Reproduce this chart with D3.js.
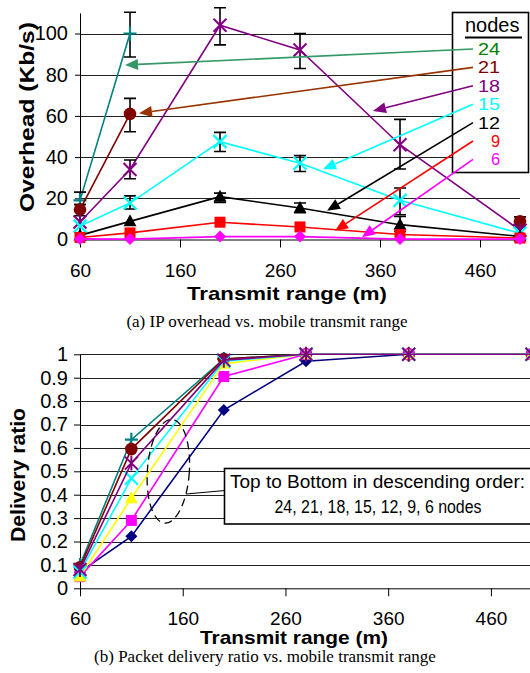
<!DOCTYPE html>
<html>
<head>
<meta charset="utf-8">
<script src="https://cdn.jsdelivr.net/npm/d3@7"></script>
<style>
  body { margin: 0; background: #fff; }
  svg { display: block; }
  text { font-family: "Liberation Sans", Arial, sans-serif; }
</style>
</head>
<body>
<svg width="530" height="673"></svg>
<script>
// transmit ranges (m) where the runs were made
var ranges = [60, 110, 200, 280, 380, 500];
var nodeCounts = [24, 21, 18, 15, 12, 9, 6];
var xTicks = [60, 160, 260, 360, 460];

// (a) IP overhead, Kb/s (null = no point)
var ovh24 = [19, 100, null, null, null, null];
var ovh21 = [14.5, 61, null, null, null, 8.8];
var ovh18 = [8.5, 34, 104, 92, 46, 4.5];
var ovh15 = [6.5, 17.7, 47.5, 37, 19, 3];
var ovh12 = [2, 8.8, 20.8, 15.3, 7.2, 1.5];
var ovh9 = [1, 3.2, 8.4, 6.1, 2.4, 0.7];
var ovh6 = [0.3, 0.2, 1.4, 1.4, 0.2, 0.2];

// error bars [low, high]
var err24 = [[17, 23], [88.6, 110.3], null, null, null, null];
var err21 = [[11.5, 17], [52.3, 68.5], null, null, null, [6, 11]];
var err18 = [null, [29.5, 38.6], [94.5, 112.5], [83, 100], [34.2, 58.3], null];
var err15 = [null, [14.8, 21.2], [42.7, 52], [33, 40.7], [12, 25], null];
var err12 = [null, null, [18, 22.5], [13, 17.7], [4, 11.2], null];
var err9 = [null, null, null, null, null, null];
var err6 = [null, null, null, null, null, null];

// (b) packet delivery ratio
var dr24 = [0.1, 0.635, 0.98, 1, 1, 1];
var dr21 = [0.09, 0.595, 0.98, 1, 1, 1];
var dr18 = [0.08, 0.535, 0.975, 1, 1, 1];
var dr15 = [0.07, 0.47, 0.97, 1, 1, 1];
var dr12 = [0.05, 0.385, 0.96, 1, 1, 1];
var dr9 = [0.05, 0.29, 0.905, 1, 1, 1];
var dr6 = [0.07, 0.222, 0.762, 0.97, 1, 1];

var ovhSeries = [ovh24, ovh21, ovh18, ovh15, ovh12, ovh9, ovh6];
var errSeries = [err24, err21, err18, err15, err12, err9, err6];
var drSeries = [dr24, dr21, dr18, dr15, dr12, dr9, dr6];

var marks = ["plus", "circle", "star", "x", "tri", "square", "diamond"];
var topColors = ["#008080", "#800000", "#800080", "#00ffff", "#000000", "#ff0000", "#ff00ff"];
var botColors = ["#008080", "#800000", "#800080", "#00ffff", "#ffff00", "#ff00ff", "#000080"];
var legendColors = ["#008000", "#800000", "#800080", "#00ffff", "#000000", "#ff0000", "#ff00ff"];
var arrowColors = ["#339966", "#993300", "#800080", "#00ffff", "#000000", "#ff0000", "#ff00ff"];
// where each legend arrow points, in data units (range, Kb/s)
var arrowTips = [[105, 84.7], [119, 61.3], [353, 62.4], [303, 34.1], [307, 14], [315, 4.3], [342, 1.1]];
// drawing order of the delivery-ratio series (index into drSeries)
var drOrder = [0, 1, 6, 5, 4, 3, 2];

var svg = d3.select("svg");

var xA = d3.scaleLinear().domain([60, 500]).range([80, 520]);
var yA = d3.scaleLinear().domain([0, 110]).range([239.5, 12.9]);
var xB = d3.scaleLinear().domain([60, 500]).range([80, 532]);
var yB = d3.scaleLinear().domain([0, 1]).range([588.3, 354.3]);

function marker(g, type, x, y, color) {
  var s = 6.5;
  if (type == "plus") {
    g.append("path").attr("d", "M" + (x - s) + "," + y + "H" + (x + s) + "M" + x + "," + (y - s - 0.5) + "V" + (y + s + 0.5))
      .attr("stroke", color).attr("stroke-width", 2.2).attr("fill", "none");
  } else if (type == "circle") {
    g.append("circle").attr("cx", x).attr("cy", y).attr("r", 6.3).attr("fill", color);
  } else if (type == "star") {
    g.append("path").attr("d", "M" + (x - s) + "," + (y - s) + "L" + (x + s) + "," + (y + s) + "M" + (x - s) + "," + (y + s) + "L" + (x + s) + "," + (y - s) + "M" + x + "," + (y - s - 1) + "V" + (y + s + 1))
      .attr("stroke", color).attr("stroke-width", 2).attr("fill", "none");
  } else if (type == "x") {
    g.append("path").attr("d", "M" + (x - s) + "," + (y - s) + "L" + (x + s) + "," + (y + s) + "M" + (x - s) + "," + (y + s) + "L" + (x + s) + "," + (y - s))
      .attr("stroke", color).attr("stroke-width", 2.2).attr("fill", "none");
  } else if (type == "tri") {
    g.append("path").attr("d", "M" + x + "," + (y - 7) + "L" + (x + 6.5) + "," + (y + 5) + "L" + (x - 6.5) + "," + (y + 5) + "Z").attr("fill", color);
  } else if (type == "square") {
    g.append("rect").attr("x", x - 5.5).attr("y", y - 5.5).attr("width", 11).attr("height", 11).attr("fill", color);
  } else if (type == "diamond") {
    g.append("path").attr("d", "M" + x + "," + (y - 6) + "L" + (x + 6) + "," + y + "L" + x + "," + (y + 6) + "L" + (x - 6) + "," + y + "Z").attr("fill", color);
  }
}

function styleAxis(g) {
  g.select(".domain").attr("stroke", "#000").attr("stroke-width", 1);
  g.selectAll(".tick line").attr("stroke", "#000");
  g.selectAll(".tick text").attr("font-size", 19).attr("fill", "#000")
    .attr("font-family", '"Liberation Sans", Arial, sans-serif');
}

// ---------- (a) overhead ----------
var gA = svg.append("g");

gA.append("g").selectAll("line").data([20, 40, 60, 80, 100]).join("line")
  .attr("x1", 80).attr("x2", 520)
  .attr("y1", function(d) { return Math.round(yA(d)) + 0.5; })
  .attr("y2", function(d) { return Math.round(yA(d)) + 0.5; })
  .attr("stroke", "#222").attr("stroke-width", 1);

var ayA = gA.append("g").attr("transform", "translate(80,0)")
  .call(d3.axisLeft(yA).tickValues([0, 20, 40, 60, 80, 100]).tickSize(5).tickPadding(7).tickSizeOuter(0))
  .call(styleAxis);
ayA.selectAll(".tick text").attr("font-size", 20);

var axA = gA.append("g").attr("transform", "translate(0,239.5)")
  .call(d3.axisBottom(xA).tickValues(xTicks).tickSize(8).tickPadding(16).tickSizeOuter(0))
  .call(styleAxis);
axA.selectAll(".tick text").attr("dy", "0.71em");

var lineA = d3.line()
  .defined(function(d) { return d[1] != null; })
  .x(function(d) { return xA(d[0]); })
  .y(function(d) { return yA(d[1]); });

ovhSeries.forEach(function(vals, i) {
  var pts = ranges.map(function(r, j) { return [r, vals[j]]; });
  var g = gA.append("g");
  g.append("path").datum(pts).attr("d", lineA)
    .attr("fill", "none").attr("stroke", topColors[i]).attr("stroke-width", 1.6);
  errSeries[i].forEach(function(e, j) {
    if (!e) return;
    var x = xA(ranges[j]);
    g.append("path")
      .attr("d", "M" + x + "," + yA(e[0]) + "V" + yA(e[1]) +
        "M" + (x - 6) + "," + yA(e[0]) + "H" + (x + 6) +
        "M" + (x - 6) + "," + yA(e[1]) + "H" + (x + 6))
      .attr("stroke", "#000").attr("stroke-width", 1.6).attr("fill", "none");
  });
  pts.forEach(function(p) {
    if (p[1] == null) return;
    marker(g, marks[i], xA(p[0]), yA(p[1]), topColors[i]);
  });
});

// legend box with arrows
var leg = gA.append("g");
leg.append("rect").attr("x", 452.5).attr("y", 12.5).attr("width", 76).attr("height", 160)
  .attr("fill", "#fff").attr("stroke", "#000").attr("stroke-width", 1.6);
leg.append("text").attr("x", 465).attr("y", 31.5).attr("font-size", 20).text("nodes");
leg.append("line").attr("x1", 465).attr("x2", 522).attr("y1", 37.5).attr("y2", 37.5)
  .attr("stroke", "#000").attr("stroke-width", 1.8);

nodeCounts.forEach(function(n, i) {
  var by = 55 + i * 18.4;
  var t = leg.append("text").attr("x", 500).attr("y", by).attr("text-anchor", "end")
    .attr("font-size", 16.4).attr("fill", legendColors[i]).text(n);
  if (String(n).length == 2) t.attr("textLength", 22).attr("lengthAdjust", "spacingAndGlyphs");
  var x0 = 473, y0 = by - 6;
  var x1 = xA(arrowTips[i][0]), y1 = yA(arrowTips[i][1]);
  var dx = x1 - x0, dy = y1 - y0, len = Math.sqrt(dx * dx + dy * dy);
  var ux = dx / len, uy = dy / len;
  var hl = 13, hw = 5.5;
  var bx = x1 - ux * hl, by2 = y1 - uy * hl;
  leg.append("line").attr("x1", x0).attr("y1", y0).attr("x2", bx).attr("y2", by2)
    .attr("stroke", arrowColors[i]).attr("stroke-width", 1.6);
  leg.append("path")
    .attr("d", "M" + x1 + "," + y1 + "L" + (bx - uy * hw) + "," + (by2 + ux * hw) + "L" + (bx + uy * hw) + "," + (by2 - ux * hw) + "Z")
    .attr("fill", arrowColors[i]);
});

gA.append("text").attr("transform", "translate(34,117) rotate(-90)")
  .attr("text-anchor", "middle").attr("font-size", 21).attr("font-weight", "bold")
  .attr("textLength", 190).attr("lengthAdjust", "spacingAndGlyphs")
  .text("Overhead (Kb/s)");
gA.append("text").attr("x", 287).attr("y", 300)
  .attr("text-anchor", "middle").attr("font-size", 19).attr("font-weight", "bold")
  .attr("textLength", 200).attr("lengthAdjust", "spacingAndGlyphs")
  .text("Transmit range (m)");
gA.append("text").attr("x", 267).attr("y", 327)
  .attr("text-anchor", "middle").attr("font-size", 17)
  .style("font-family", '"Liberation Serif", "Times New Roman", serif')
  .text("(a) IP overhead vs. mobile transmit range");

// ---------- (b) delivery ratio ----------
var gB = svg.append("g");

gB.append("g").selectAll("line").data(d3.range(1, 11).map(function(k) { return k / 10; })).join("line")
  .attr("x1", 80).attr("x2", 530)
  .attr("y1", function(d) { return Math.round(yB(d)) + 0.5; })
  .attr("y2", function(d) { return Math.round(yB(d)) + 0.5; })
  .attr("stroke", "#222").attr("stroke-width", 1);

var ayB = gB.append("g").attr("transform", "translate(80,0)")
  .call(d3.axisLeft(yB).tickValues(d3.range(0, 11).map(function(k) { return k / 10; }))
    .tickFormat(function(d) { return d == 0 ? "0" : d == 1 ? "1" : d3.format(".1f")(d); })
    .tickSize(6).tickPadding(6).tickSizeOuter(0))
  .call(styleAxis);
ayB.selectAll(".tick text").attr("font-size", 20);

var axB = gB.append("g").attr("transform", "translate(0,588.3)")
  .call(d3.axisBottom(xB).tickValues(xTicks).tickSize(8).tickPadding(15).tickSizeOuter(0))
  .call(styleAxis);
axB.selectAll(".tick text").attr("dy", "0.71em");

var lineB = d3.line()
  .x(function(d) { return xB(d[0]); })
  .y(function(d) { return yB(d[1]); });

drOrder.forEach(function(i) {
  var pts = ranges.map(function(r, j) { return [r, drSeries[i][j]]; });
  var g = gB.append("g");
  g.append("path").datum(pts).attr("d", lineB)
    .attr("fill", "none").attr("stroke", botColors[i]).attr("stroke-width", 1.6);
  pts.forEach(function(p) { marker(g, marks[i], xB(p[0]), yB(p[1]), botColors[i]); });
});

// annotation: dashed ellipse, leader and box
gB.append("ellipse").attr("transform", "translate(" + xB(146) + "," + yB(0.5) + ") rotate(4)")
  .attr("rx", 21).attr("ry", 52).attr("fill", "none")
  .attr("stroke", "#000").attr("stroke-width", 1.3).attr("stroke-dasharray", "8,5");
gB.append("line").attr("x1", 186).attr("y1", 494).attr("x2", 225).attr("y2", 490.5)
  .attr("stroke", "#000").attr("stroke-width", 1.2);
gB.append("rect").attr("x", 224.5).attr("y", 468.5).attr("width", 320).attr("height", 55.5)
  .attr("fill", "#fff").attr("stroke", "#000").attr("stroke-width", 1.6);
gB.append("text").attr("x", 377.5).attr("y", 488).attr("text-anchor", "middle")
  .attr("font-size", 18).attr("textLength", 295).attr("lengthAdjust", "spacingAndGlyphs")
  .text("Top to Bottom in descending order:");
gB.append("text").attr("x", 378).attr("y", 513).attr("text-anchor", "middle")
  .attr("font-size", 18).attr("textLength", 207).attr("lengthAdjust", "spacingAndGlyphs")
  .text("24, 21, 18, 15, 12, 9, 6 nodes");

gB.append("text").attr("transform", "translate(25,475) rotate(-90)")
  .attr("text-anchor", "middle").attr("font-size", 20).attr("font-weight", "bold")
  .attr("textLength", 134).attr("lengthAdjust", "spacingAndGlyphs")
  .text("Delivery ratio");
gB.append("text").attr("x", 294).attr("y", 644)
  .attr("text-anchor", "middle").attr("font-size", 19).attr("font-weight", "bold")
  .attr("textLength", 188).attr("lengthAdjust", "spacingAndGlyphs")
  .text("Transmit range (m)");
gB.append("text").attr("x", 265).attr("y", 662)
  .attr("text-anchor", "middle").attr("font-size", 17)
  .style("font-family", '"Liberation Serif", "Times New Roman", serif')
  .text("(b) Packet delivery ratio vs. mobile transmit range");
</script>
</body>
</html>
